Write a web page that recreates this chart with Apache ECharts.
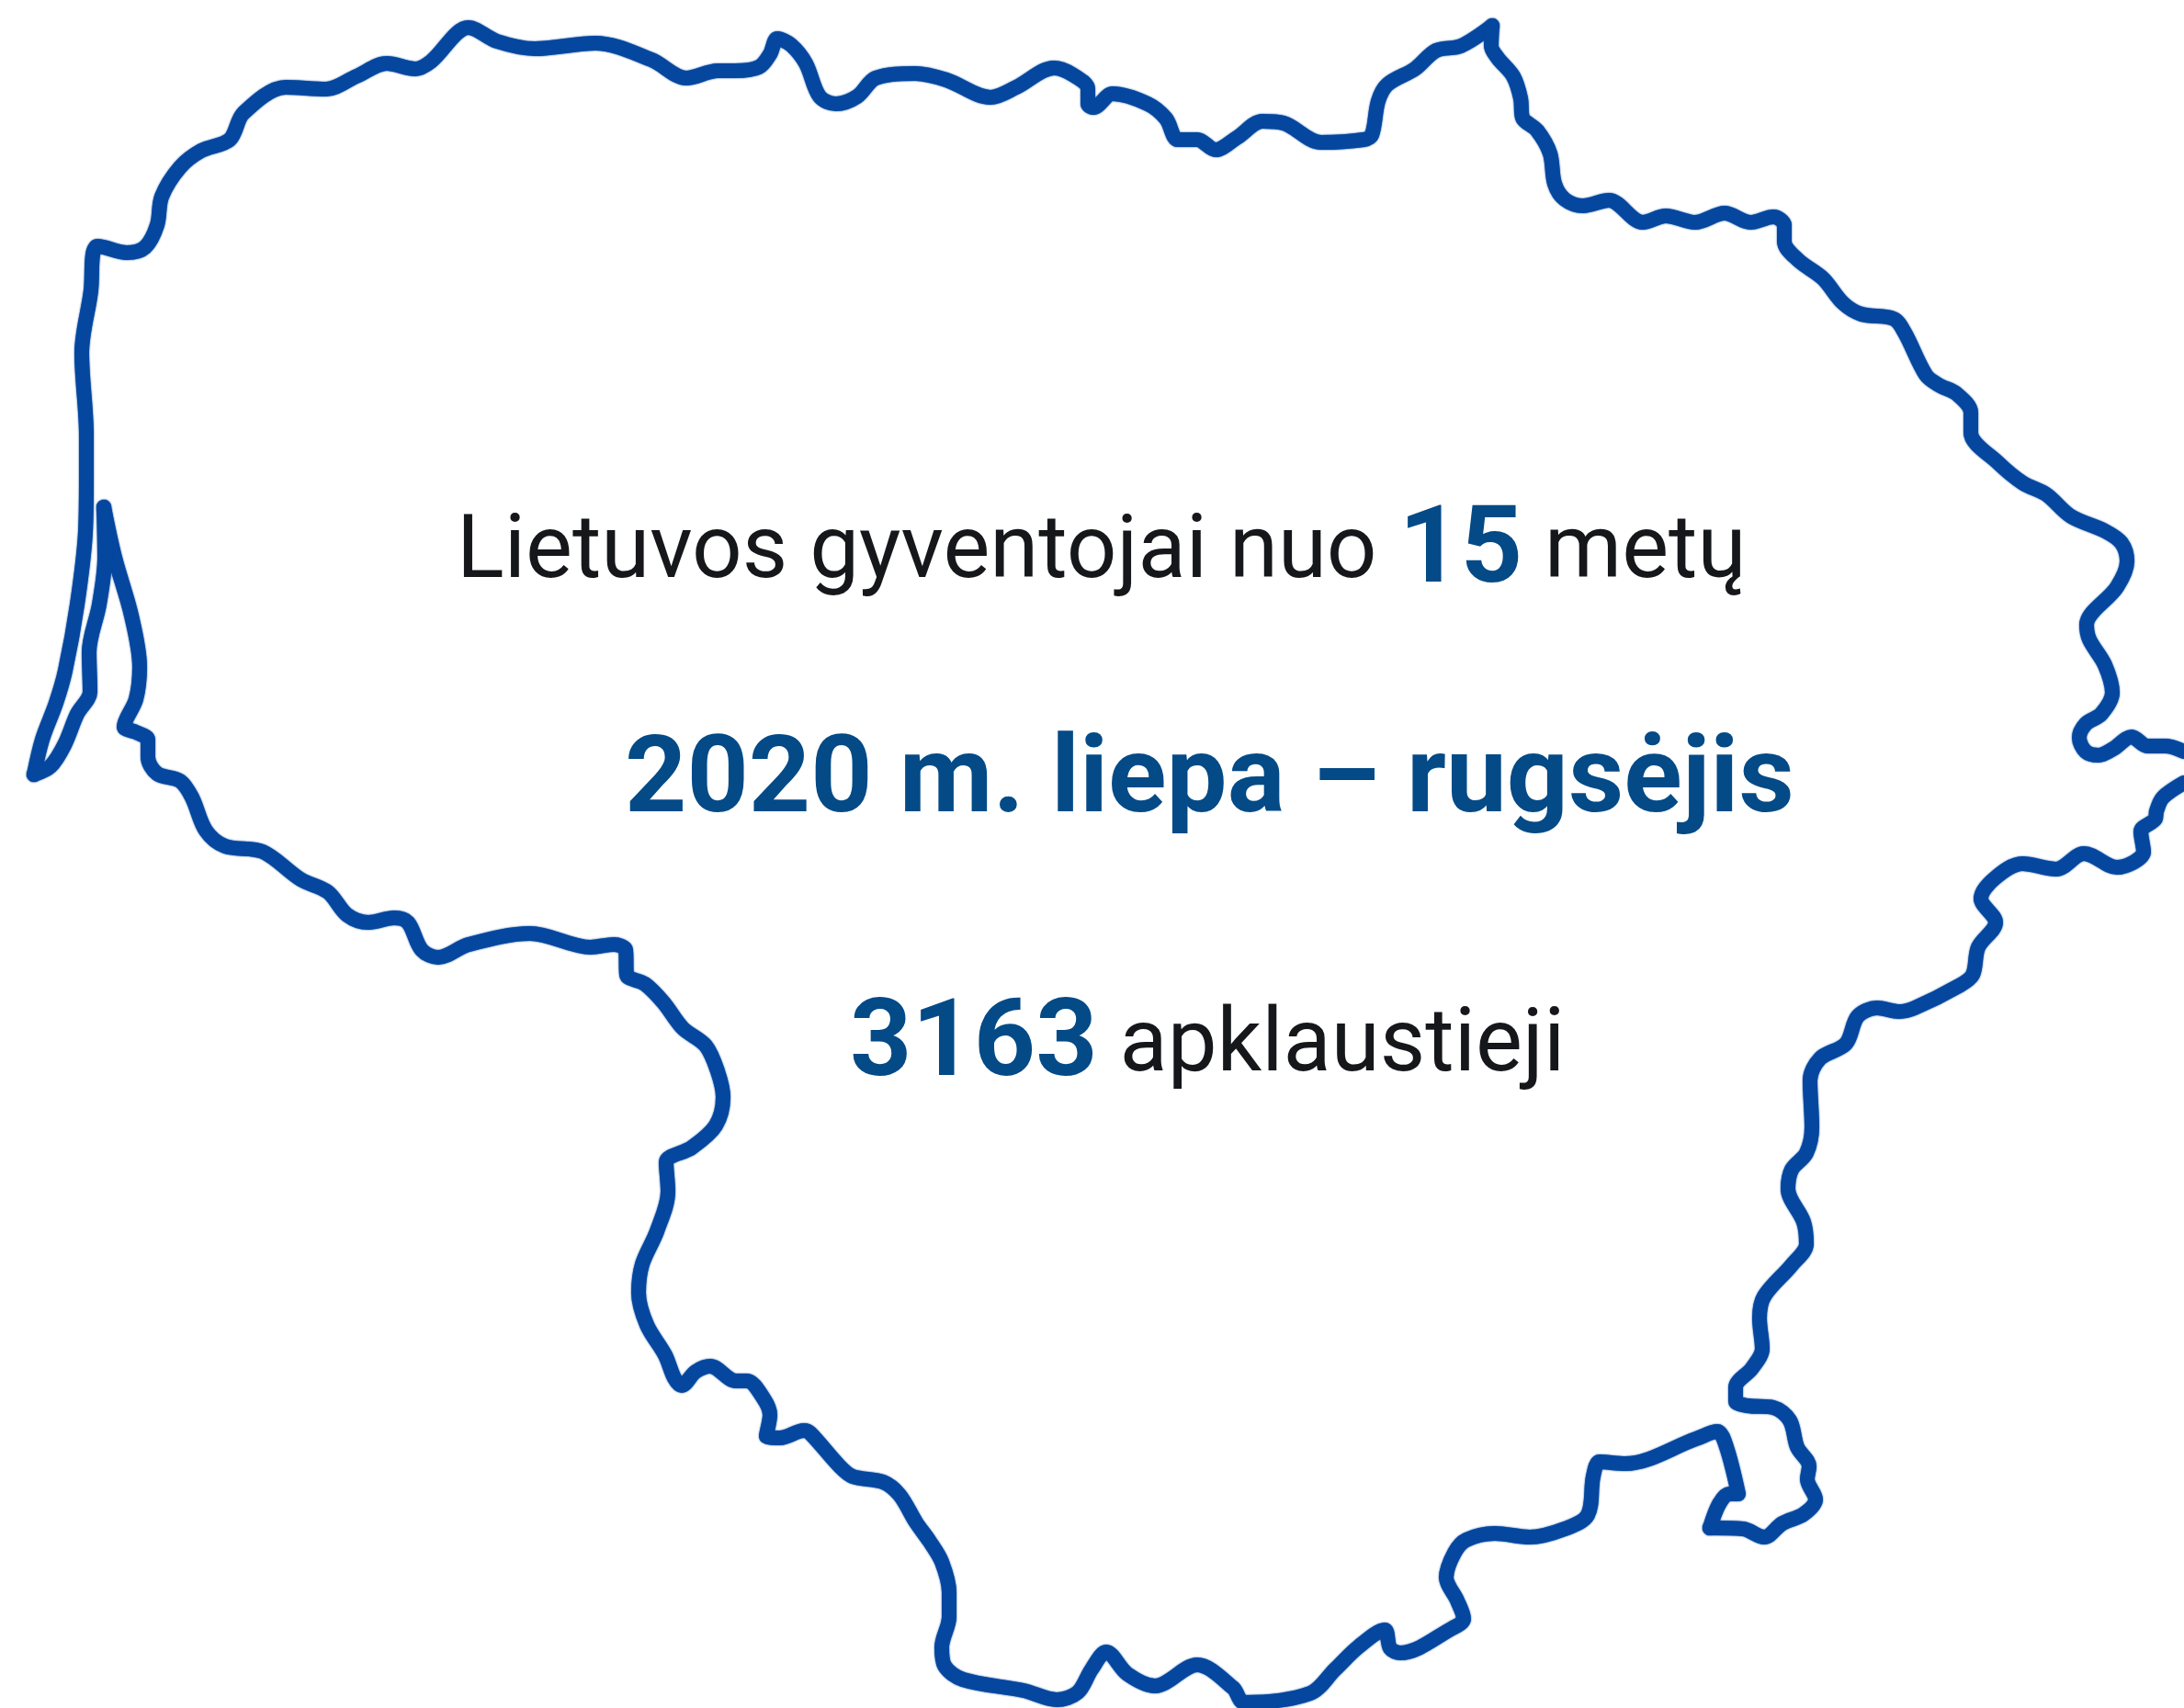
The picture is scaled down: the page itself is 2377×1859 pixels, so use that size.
<!DOCTYPE html>
<html>
<head>
<meta charset="utf-8">
<style>html,body{margin:0;padding:0;background:#fff}#chart{width:2377px;height:1859px}</style>
<script src="https://cdn.jsdelivr.net/npm/echarts@6/dist/echarts.min.js"></script>
</head>
<body>
<div id="chart"></div>
<script>
// Outline, in picture units, clockwise from the lagoon tip.
const outlineWest = [[37,843],[46,805],[61,765],[71,730],[84,658],[93,579],[94,520],[94,474],[89,384],[99,316],[101,277],[106,268],[138,275],[158,269],[171,245],[176,214],[196,182],[219,164],[250,152],[265,123],[311,95],[355,97],[388,83],[421,69],[452,75],[469,67],[510,30]];
const outlineNorth = [[541,45],[582,53],[648,47],[709,65],[747,85],[781,77],[800,77],[826,73],[838,59],[846,42],[861,49],[877,69],[892,105],[910,113],[933,105],[953,85],[996,80],[1030,87],[1078,106],[1106,95],[1147,74],[1167,81],[1184,97],[1184,113],[1190,117],[1211,102],[1249,113],[1269,129],[1282,152],[1303,152],[1323,163],[1346,150],[1374,132],[1397,134],[1438,155],[1484,152],[1493,147],[1500,110],[1510,92],[1540,75],[1563,55],[1590,50],[1624,28]];
const outlineNorthEast = [[1623,50],[1630,63],[1647,83],[1655,107],[1657,128],[1673,142],[1687,167],[1692,200],[1703,217],[1723,224],[1751,218],[1788,242],[1813,235],[1845,242],[1877,232],[1905,242],[1930,236],[1942,245],[1942,263],[1957,283],[1984,303],[2006,330],[2026,342],[2061,347],[2073,362],[2096,408],[2110,419],[2130,429],[2145,449],[2145,471],[2175,504],[2202,526],[2227,538],[2254,562],[2291,578],[2309,591],[2315,611],[2304,639],[2271,680],[2274,696],[2291,724],[2299,754],[2287,777],[2270,788],[2263,803],[2270,818],[2284,822],[2300,815],[2320,802],[2337,812],[2357,812],[2377,818]];
const outlineEast = [[2377,852],[2354,868],[2347,883],[2346,891],[2330,905],[2333,927],[2304,944],[2268,929],[2238,946],[2201,940],[2171,956],[2156,978],[2172,1004],[2153,1031],[2147,1061],[2132,1073],[2084,1097],[2067,1101],[2043,1097],[2022,1106],[2009,1136],[1981,1152],[1970,1176],[1972,1227],[1966,1255],[1950,1273],[1946,1294],[1963,1330],[1966,1354],[1950,1377],[1920,1411],[1915,1435],[1918,1468],[1907,1489],[1889,1510],[1889,1525],[1902,1530],[1930,1532],[1948,1546],[1956,1575],[1969,1596],[1967,1610],[1976,1632],[1963,1648],[1940,1658],[1920,1673],[1897,1664],[1861,1663]];
const outlineSouth = [[1871,1637],[1882,1626],[1892,1626],[1879,1575],[1869,1558],[1846,1566],[1769,1593],[1741,1591],[1734,1607],[1728,1649],[1703,1664],[1665,1673],[1627,1669],[1596,1676],[1583,1690],[1574,1717],[1586,1742],[1593,1762],[1581,1772],[1524,1799],[1513,1794],[1507,1774],[1479,1792],[1453,1817],[1426,1843],[1354,1853],[1342,1837],[1303,1812],[1257,1835],[1227,1822],[1204,1798],[1188,1817],[1173,1842],[1150,1850],[1114,1840],[1048,1828],[1028,1813],[1025,1793],[1033,1760],[1033,1733],[1025,1700],[1012,1678],[997,1657],[979,1627],[961,1613],[928,1607],[913,1595],[882,1560],[875,1557],[849,1565],[834,1563],[838,1540],[831,1522],[813,1503],[801,1503],[773,1487],[757,1493],[742,1508],[734,1500],[724,1475],[704,1442],[695,1407],[699,1376],[715,1340],[727,1297],[725,1265],[753,1249],[779,1225],[787,1194],[781,1166],[768,1138],[743,1119],[722,1091],[702,1071],[682,1061],[681,1034],[668,1028],[643,1031],[577,1016],[510,1028],[477,1042],[459,1034],[444,1004],[429,999],[401,1004],[378,996],[357,971],[327,957],[286,927],[245,921],[224,904],[209,868],[196,850],[171,842],[161,824],[161,805],[148,797],[135,791],[148,761],[152,726],[143,670],[125,607],[113,552]];
const outlineLagoon = [[114,607],[108,658],[97,710],[98,753],[84,777],[70,811],[55,834],[37,843]];

const headlineParts = ['Lietuvos gyventojai nuo ', '15', ' metų'];
const periodText = '2020 m. liepa – rugsėjis';
const respondentParts = ['3163', ' apklaustieji'];

const BLUE_LINE = '#05479f', BLUE_TEXT = '#034a87', DARK = '#16171a';
const FONT = 'Roboto';
const rich = {
  n: {fontFamily: FONT, fontSize: 96, fontWeight: 400, color: DARK},
  b: {fontFamily: FONT, fontSize: 117.5, fontWeight: 700, color: BLUE_TEXT}
};
const lineStyle = {color: BLUE_LINE, width: 16, cap: 'round', join: 'round', shadowColor: BLUE_LINE, shadowBlur: 2};
const joinPieces = (...pieces) => pieces.flat();
const edge = (data) => ({type: 'line', data, smooth: 0.33, showSymbol: false, symbol: 'none', silent: true, lineStyle, clip: true});

const chart = echarts.init(document.getElementById('chart'), null, {renderer: 'canvas'});
chart.setOption({
  animation: false,
  backgroundColor: '#ffffff',
  title: [
    {text: `{n|${headlineParts[0]}}{b|${headlineParts[1]}}{n|${headlineParts[2]}}`, left: 497, top: 545, padding: 0, textStyle: {rich}},
    {text: `{b|${periodText}}`, left: 680, top: 795, padding: 0, textStyle: {rich}},
    {text: `{b|${respondentParts[0]}}{n|${respondentParts[1]}}`, left: 925, top: 1082, padding: 0, textStyle: {rich}}
  ],
  grid: {left: 0, right: 0, top: 0, bottom: 0},
  xAxis: {type: 'value', min: 0, max: 2377, show: false},
  yAxis: {type: 'value', min: 0, max: 1859, inverse: true, show: false},
  series: [
    edge(joinPieces(outlineWest, outlineNorth)),
    edge(joinPieces([[1624,28]], outlineNorthEast)),
    edge(outlineEast),
    edge(joinPieces([[1861,1663]], outlineSouth)),
    edge(joinPieces([[113,552]], outlineLagoon))
  ]
});
</script>
</body>
</html>
